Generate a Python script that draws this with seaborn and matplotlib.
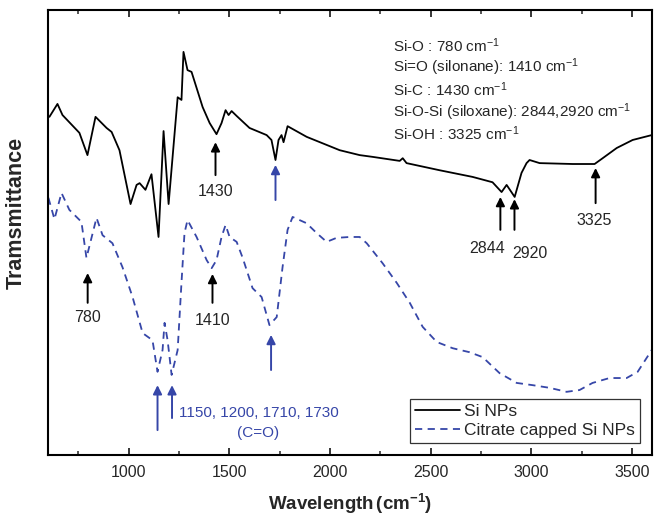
import matplotlib
matplotlib.use("Agg")
import matplotlib.pyplot as plt
from matplotlib.ticker import MultipleLocator
import seaborn as sns
import pandas as pd

# ---- data ----
si_wn = [607, 647, 672, 756, 796, 836, 891, 916, 955, 1010, 1040, 1055, 1084, 1114,
         1149, 1174, 1199, 1244, 1263, 1273, 1293, 1313, 1368, 1403, 1437, 1462, 1482,
         1497, 1512, 1537, 1601, 1686, 1710, 1730, 1745, 1760, 1770, 1790, 1885, 2049,
         2148, 2213, 2347, 2362, 2381, 2545, 2709, 2808, 2853, 2878, 2918, 2952, 2977,
         2992, 3042, 3206, 3315, 3355, 3425, 3504, 3599]
si_T = [76.0, 78.9, 76.4, 72.4, 67.4, 76.0, 73.5, 72.6, 68.5, 56.4, 60.7, 61.1, 59.6, 63.1,
        49.0, 72.8, 56.4, 80.4, 79.8, 90.6, 86.5, 86.1, 78.2, 74.6, 72.1, 74.6, 77.5,
        76.4, 77.3, 76.2, 73.5, 71.9, 70.8, 66.3, 70.8, 71.9, 70.3, 73.9, 71.5, 68.5,
        67.4, 67.0, 66.1, 66.7, 65.6, 64.0, 62.5, 61.3, 59.1, 60.7, 58.0, 63.4, 65.6,
        66.3, 65.6, 65.4, 65.4, 66.7, 69.0, 70.8, 71.9]

cit_wn = [602, 632, 667, 706, 766, 791, 816, 841, 871, 920, 970, 1020, 1070, 1119, 1144,
          1169, 1179, 1194, 1214, 1244, 1263, 1278, 1293, 1338, 1388, 1413, 1437, 1462,
          1482, 1502, 1537, 1567, 1616, 1661, 1700, 1736, 1765, 1790, 1815, 1884, 1934,
          1984, 2033, 2098, 2148, 2183, 2262, 2332, 2397, 2461, 2531, 2610, 2694, 2759,
          2843, 2928, 3007, 3091, 3176, 3240, 3305, 3389, 3474, 3529, 3599]
cit_T = [57.8, 53.0, 58.9, 55.1, 52.4, 44.3, 48.8, 53.3, 49.4, 47.6, 42.2, 35.5, 27.4, 25.8,
         18.7, 23.6, 29.7, 25.8, 18.0, 23.6, 38.7, 49.9, 52.8, 49.0, 43.8, 42.0, 43.8, 49.0,
         51.7, 49.0, 47.9, 44.3, 37.5, 35.5, 29.2, 31.0, 42.2, 50.6, 53.5, 52.1, 49.9,
         47.9, 48.8, 49.0, 49.0, 47.6, 43.1, 38.7, 34.2, 28.8, 25.4, 24.0, 23.1, 22.0,
         18.4, 16.2, 15.7, 15.1, 14.2, 14.6, 16.2, 17.3, 17.3, 18.7, 23.6]

series_names = ["Si NPs", "Citrate capped Si NPs"]
x_ticks = [1000, 1500, 2000, 2500, 3000, 3500]

info_lines = [r"Si-O : 780 cm$^{-1}$",
              r"Si=O (silonane): 1410 cm$^{-1}$",
              r"Si-C : 1430 cm$^{-1}$",
              r"Si-O-Si (siloxane): 2844,2920 cm$^{-1}$",
              r"Si-OH : 3325 cm$^{-1}$"]

BLUE = "#3646a8"

df = pd.concat([
    pd.DataFrame({"wn": si_wn, "T": si_T, "sample": series_names[0]}),
    pd.DataFrame({"wn": cit_wn, "T": cit_T, "sample": series_names[1]}),
])

sns.set_style("ticks")
plt.rcParams["font.family"] = ["Liberation Sans", "DejaVu Sans"]
plt.rcParams["mathtext.fontset"] = "custom"
plt.rcParams["mathtext.rm"] = "Liberation Sans"
plt.rcParams["mathtext.it"] = "Liberation Sans:italic"
plt.rcParams["mathtext.bf"] = "Liberation Sans:bold"

fig = plt.figure(figsize=(6.54, 5.18), dpi=100)
ax = fig.add_axes([0.0734, 0.1216, 0.9235, 0.859])

sns.lineplot(data=df, x="wn", y="T", hue="sample", style="sample",
             palette={series_names[0]: "black", series_names[1]: BLUE},
             dashes={series_names[0]: "", series_names[1]: (4, 3)},
             linewidth=1.3, sort=False, estimator=None, ax=ax)

ax.set_xlim(600, 3600)
ax.set_ylim(0, 100)
ax.set_xticks(x_ticks)
ax.xaxis.set_minor_locator(MultipleLocator(250))
ax.set_yticks([])
ax.tick_params(axis="x", which="major", direction="in", length=5, width=1.3,
               top=True, labelsize=11.5, pad=7)
ax.tick_params(axis="x", which="minor", direction="in", length=3, width=1.1, top=True)
for s in ax.spines.values():
    s.set_linewidth(1.5)
    s.set_color("black")

ax.set_xlabel(r"Wavelength$\,$(cm$^{\mathbf{-1}}$)", fontsize=13.5, fontweight="bold", labelpad=9)
ax.set_ylabel("Tramsmittance", fontsize=15.5, fontweight="bold")
ax.yaxis.set_label_coords(-0.036, 0.545)

leg = ax.legend(loc="lower right", fontsize=12.5, frameon=True, fancybox=False,
                edgecolor="black", handlelength=2.6, borderpad=0.3,
                labelspacing=0.2, handletextpad=0.2, borderaxespad=0.7)
leg.get_frame().set_linewidth(0.9)

def arrow(x, y_tip, y_tail, color):
    ax.annotate("", xy=(x, y_tip), xytext=(x, y_tail),
                arrowprops=dict(arrowstyle="-|>", color=color, lw=1.4,
                                mutation_scale=13, shrinkA=0, shrinkB=0))

# Si NPs annotations
arrow(1432, 70.3, 62.9, "black")
ax.text(1432, 59.3, "1430", ha="center", va="center", fontsize=11.5)
arrow(1730, 65.2, 57.3, BLUE)
arrow(2847, 58.0, 50.6, "black")
arrow(2917, 57.5, 50.6, "black")
ax.text(2779, 46.5, "2844", ha="center", va="center", fontsize=11.5)
ax.text(2992, 45.2, "2920", ha="center", va="center", fontsize=11.5)
arrow(3320, 64.5, 56.6, "black")
ax.text(3315, 52.8, "3325", ha="center", va="center", fontsize=11.5)

# Citrate annotations
arrow(797, 40.9, 34.2, "black")
ax.text(795, 30.8, "780", ha="center", va="center", fontsize=11.5)
arrow(1417, 40.7, 34.2, "black")
ax.text(1417, 30.3, "1410", ha="center", va="center", fontsize=11.5)
arrow(1708, 27.0, 19.1, BLUE)
arrow(1144, 15.7, 5.6, BLUE)
arrow(1216, 15.7, 8.3, BLUE)
ax.text(1253, 9.4, "1150, 1200, 1710, 1730", ha="left", va="center",
        fontsize=11, color=BLUE)
ax.text(1641, 4.9, "(C=O)", ha="center", va="center", fontsize=11, color=BLUE)

info_y = [92.1, 87.2, 82.2, 77.1, 72.1]
for yy, line in zip(info_y, info_lines):
    ax.text(2312, yy, line, ha="left", va="center", fontsize=11)

fig.savefig("out.png", dpi=100)
